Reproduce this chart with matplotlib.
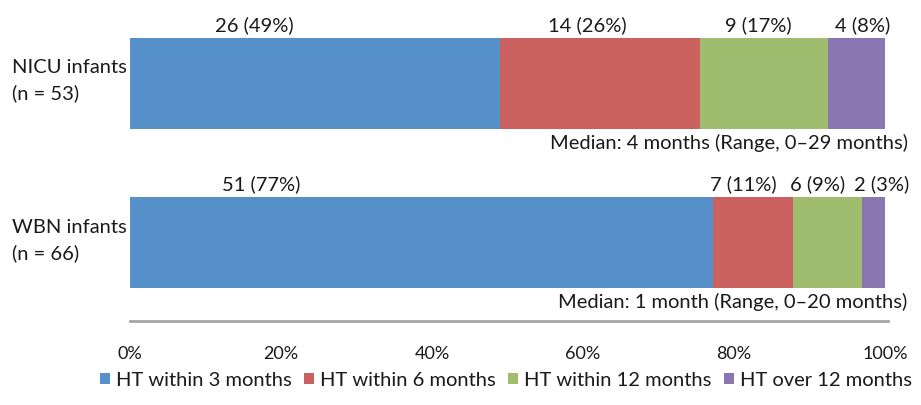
import numpy as np
import matplotlib
matplotlib.use("Agg")
import matplotlib.pyplot as plt

plt.rcParams['font.family'] = ['Lato', 'DejaVu Sans']

# data
groups = ['NICU infants\n(n = 53)', 'WBN infants\n(n = 66)']
group_n = [53, 66]
series = ['HT within 3 months', 'HT within 6 months', 'HT within 12 months', 'HT over 12 months']
nicu_counts = [26, 14, 9, 4]
wbn_counts = [51, 7, 6, 2]
medians = ['Median: 4 months (Range, 0\u201329 months)',
           'Median: 1 month (Range, 0\u201320 months)']
xticks = [0, 0.2, 0.4, 0.6, 0.8, 1.0]
xtick_labels = ['0%', '20%', '40%', '60%', '80%', '100%']

# layout / style
colors = ['#5591C8', '#CB615F', '#A0BD6F', '#8A76B0']
label_shift = [[-0.081, -0.017, -0.007, 0.008],
               [-0.213, -0.014, -0.013, 0.011]]
txt = '#1a1a1a'
fs = 14.5

fig = plt.figure(figsize=(9.21, 4.06), dpi=100)
ax = fig.add_axes([130 / 921, 1 - 322 / 406, 755 / 921, 292 / 406])

counts = np.array([nicu_counts, wbn_counts], dtype=float)
fracs = counts / np.array(group_n)[:, None]
ypos = np.arange(len(groups))
bar_h = 0.57

left = np.zeros(len(groups))
for j, name in enumerate(series):
    ax.barh(ypos, fracs[:, j], left=left, height=bar_h, color=colors[j],
            label=name, edgecolor='none')
    for i in range(len(groups)):
        cx = left[i] + fracs[i, j] / 2 + label_shift[i][j]
        ax.text(cx, ypos[i] - bar_h / 2 - 0.03,
                f'{int(counts[i, j])} ({fracs[i, j] * 100:.0f}%)',
                ha='center', va='bottom', fontsize=fs, color=txt)
    left = left + fracs[:, j]

for i in range(len(groups)):
    ax.text(1.03, ypos[i] + bar_h / 2 + 0.025, medians[i], ha='right', va='top',
            fontsize=fs, color=txt)
    # group names on the left
    ax.text(-0.1563, ypos[i] - 0.02, groups[i], transform=ax.get_yaxis_transform(),
            ha='left', va='center', fontsize=fs, color=txt, linespacing=1.55)

ax.set_xlim(0, 1.0)
ax.set_ylim(1.492, -0.339)
ax.set_xticks(xticks)
ax.set_xticklabels(xtick_labels, fontsize=13, color=txt)
ax.set_yticks([])
ax.tick_params(axis='x', length=0, pad=17)

for s in ['top', 'right', 'left']:
    ax.spines[s].set_visible(False)
ax.spines['bottom'].set_color('#a6a6a6')
ax.spines['bottom'].set_linewidth(2)
ax.spines['bottom'].set_bounds(0, 1.004)

fig.legend(loc='center', bbox_to_anchor=(506 / 921, 1 - 381 / 406), ncol=4,
           frameon=False, fontsize=fs, handlelength=0.5, handleheight=0.5,
           handletextpad=0.3, columnspacing=0.6, labelcolor=txt)

fig.savefig('out.png', dpi=100)
